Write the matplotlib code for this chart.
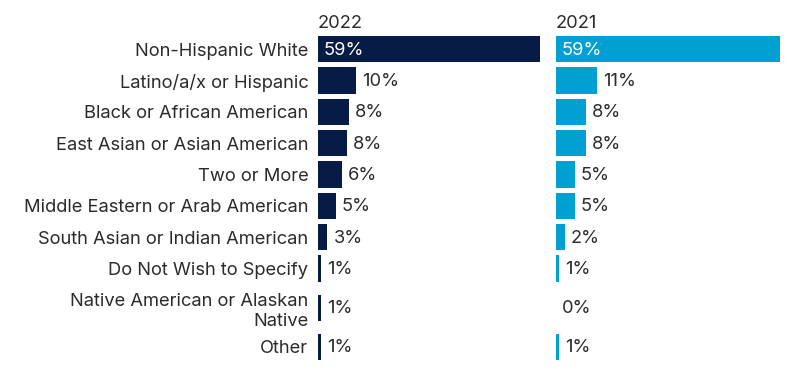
import matplotlib
matplotlib.use("Agg")
import matplotlib.pyplot as plt
from matplotlib import transforms

plt.rcParams['font.family'] = ['Inter', 'DejaVu Sans']

categories = ["Non-Hispanic White", "Latino/a/x or Hispanic", "Black or African American",
              "East Asian or Asian American", "Two or More", "Middle Eastern or Arab American",
              "South Asian or Indian American", "Do Not Wish to Specify",
              "Native American or Alaskan\nNative", "Other"]
values_2022 = [59, 10.1, 8.2, 7.7, 6.3, 4.8, 2.5, 0.8, 0.8, 0.8]
labels_2022 = ["59%", "10%", "8%", "8%", "6%", "5%", "3%", "1%", "1%", "1%"]
values_2021 = [59, 10.8, 7.9, 8.0, 5.0, 5.0, 2.4, 0.8, 0.0, 0.8]
labels_2021 = ["59%", "11%", "8%", "8%", "5%", "5%", "2%", "1%", "0%", "1%"]
titles = ["2022", "2021"]
colors = ["#061b45", "#00a0d2"]

W, H = 800, 374
fig = plt.figure(figsize=(W / 100, H / 100), dpi=100)

# row heights depend on number of label lines
heights = [1.0 + 0.5 * (c.count("\n")) for c in categories]
centers = []
acc = 0.0
for h in heights:
    centers.append(acc + h / 2)
    acc += h
total = acc

top_px, bot_px = 33.5, 362.5
panels = [(318, 540), (556, 780)]
vals = [values_2022, values_2021]
labs = [labels_2022, labels_2021]
text_color = "#2b2b2b"
fs = 13.2

for k, (x0, x1) in enumerate(panels):
    ax = fig.add_axes([x0 / W, 1 - bot_px / H, (x1 - x0) / W, (bot_px - top_px) / H])
    ax.barh(centers, vals[k], height=0.83, color=colors[k])
    ax.set_xlim(0, 59)
    ax.set_ylim(total, 0)
    for s in ax.spines.values():
        s.set_visible(False)
    ax.set_xticks([])
    if k == 0:
        ax.set_yticks(centers)
        ax.set_yticklabels(categories, fontsize=fs, color=text_color, linespacing=1.25)
        ax.tick_params(axis='y', length=0, pad=7)
        for t in ax.get_yticklabels():
            t.set_y(t.get_position()[1])
    else:
        ax.set_yticks([])
    for i, (v, l) in enumerate(zip(vals[k], labs[k])):
        off = transforms.offset_copy(ax.transData, fig=fig, x=6, y=-1, units='dots')
        if v > 40:
            ax.text(0, centers[i], l, transform=off, ha='left', va='center',
                    color='white', fontsize=fs)
        else:
            ax.text(v, centers[i], l, transform=off, ha='left', va='center',
                    color=text_color, fontsize=fs)
    fig.text(x0 / W, 1 - 23 / H, titles[k], ha='left', va='center',
             fontsize=fs, color=text_color)

fig.savefig("out.png", dpi=100)
